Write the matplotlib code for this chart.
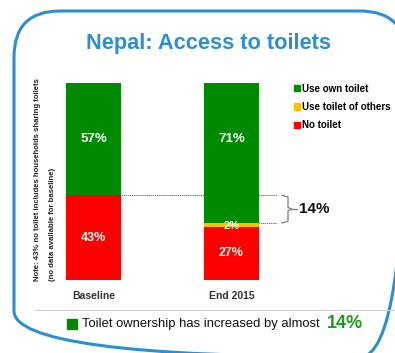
import matplotlib
matplotlib.use("Agg")
import matplotlib.pyplot as plt
from matplotlib.patches import FancyBboxPatch, Patch

# data
categories = ["Baseline", "End 2015"]
no_toilet = [43, 27]
use_others = [0, 2]
use_own = [57, 71]
series_names = ["Use own toilet", "Use toilet of others", "No toilet"]
increase = 14

GREEN = "#008a00"
YELLOW = "#ffc000"
RED = "#ff0000"
BLUE = "#2a8fd4"

plt.rcParams["font.family"] = ["Liberation Sans", "DejaVu Sans"]

W, H = 395, 353
fig = plt.figure(figsize=(W / 100, H / 100), dpi=100)

# overlay axes in pixel units (y down)
ov = fig.add_axes([0, 0, 1, 1])
ov.set_xlim(0, W)
ov.set_ylim(H, 0)
ov.axis("off")

box = FancyBboxPatch((14, 11), 392, 346, boxstyle="round,pad=0,rounding_size=46",
                     fill=False, ec=BLUE, lw=2.2)
ov.add_patch(box)
ov.plot([35, 395], [310, 310], color="#d0d0d0", lw=0.8)

ov.text(208, 43, "Nepal: Access to toilets", ha="center", va="center",
        fontsize=15.7, fontweight="bold", color=BLUE)

# bar axes
left_px, right_px, top_px, bot_px = 40, 290, 83, 280
ax = fig.add_axes([left_px / W, 1 - bot_px / H, (right_px - left_px) / W, (bot_px - top_px) / H])
ax.set_xlim((left_px - 93.5) / 138, (right_px - 93.5) / 138)
ax.set_ylim(0, 100)
ax.axis("off")

xs = list(range(len(categories)))
bw = 55 / 138
ax.bar(xs, no_toilet, bw, color=RED, zorder=3)
ax.bar(xs, use_others, bw, bottom=no_toilet, color=YELLOW, zorder=3)
bottoms = [a + b for a, b in zip(no_toilet, use_others)]
ax.bar(xs, use_own, bw, bottom=bottoms, color=GREEN, zorder=3)

for i in xs:
    ax.text(i, no_toilet[i] / 2, f"{no_toilet[i]}%", ha="center", va="center",
            color="white", fontsize=9, fontweight="bold", zorder=4)
    # own-toilet labels sit at the same height in the original
    ax.text(i, 100 - use_own[0] / 2, f"{use_own[i]}%", ha="center", va="center",
            color="white", fontsize=9.5, fontweight="bold", zorder=4)
    if use_others[i]:
        ax.text(i, no_toilet[i] + use_others[i] / 2 - 0.5, f"{use_others[i]}%", ha="center",
                va="center", color="white", fontsize=8, fontweight="bold", zorder=4)
    ax.text(i, -8, categories[i], ha="center", va="center", color="#333333",
            fontsize=7.5, fontweight="bold", clip_on=False)

# dotted reference lines and brace
xe = (277 - 93.5) / 138
ax.plot([xs[0], xe], [no_toilet[0], no_toilet[0]], color="#555555", lw=0.6,
        ls=(0, (1.5, 1)), zorder=2, clip_on=False)
ax.plot([xs[1], xe], [bottoms[1], bottoms[1]], color="#555555", lw=0.6,
        ls=(0, (1.5, 1)), zorder=2, clip_on=False)
ya, yb = no_toilet[0], bottoms[1]
ym = (ya + yb) / 2
bx = [(p - 93.5) / 138 for p in (282, 288, 288, 292, 288, 288, 282)]
by = [ya, ya - 0.8, ym + 0.8, ym, ym - 0.8, yb + 0.8, yb]
ax.plot(bx, by, color="#888888", lw=1.0, clip_on=False)
ax.plot([(292 - 93.5) / 138, (297 - 93.5) / 138], [ym, ym], color="#888888", lw=1.0, clip_on=False)
ax.text((299 - 93.5) / 138, ym, f"{ya - yb}%", ha="left", va="center", fontsize=11,
        fontweight="bold", color="#111111", clip_on=False)

# legend
handles = [Patch(color=c) for c in (GREEN, YELLOW, RED)]
fig.legend(handles, series_names, loc="upper left", bbox_to_anchor=(285 / W, 1 - 75 / H),
           frameon=False, handlelength=0.6, handleheight=0.6, handletextpad=0.25,
           labelspacing=0.85, prop={"size": 7, "weight": "bold"})

# rotated note
ov.text(38, 281, "Note: 43% no toilet includes households sharing toilets", rotation=90,
        ha="center", va="bottom", fontsize=5.6, fontweight="bold", color="#222222")
ov.text(52, 281, "(no data available for baseline)", rotation=90,
        ha="center", va="bottom", fontsize=5.6, fontweight="bold", color="#222222")

# bottom message
ov.add_patch(plt.Rectangle((67, 319), 10, 10, color=GREEN))
ov.text(82, 324, "Toilet ownership has increased by almost", ha="left", va="center",
        fontsize=9.4, color="#111111")
ov.text(327, 323, f"{increase}%", ha="left", va="center", fontsize=13,
        fontweight="bold", color="#1f9a1f")

fig.savefig("out.png", dpi=100)
